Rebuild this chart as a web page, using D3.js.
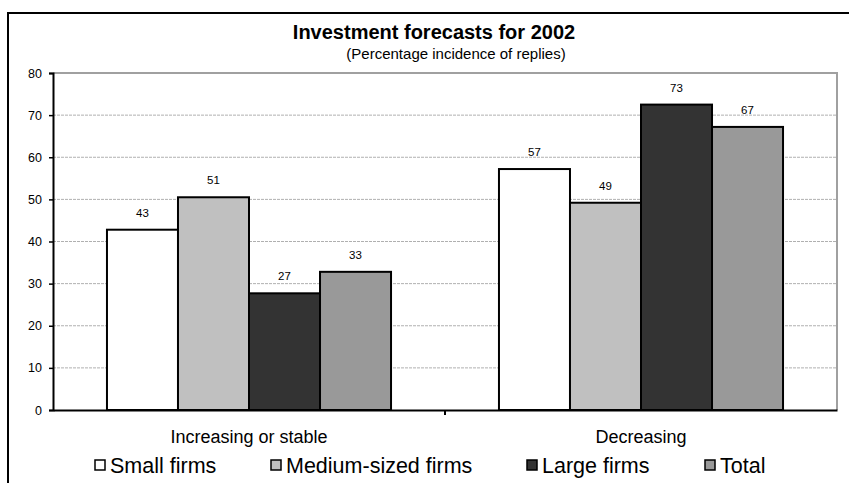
<!DOCTYPE html>
<html>
<head>
<meta charset="utf-8">
<script src="https://cdn.jsdelivr.net/npm/d3@7"></script>
<style>
  body { margin: 0; background: #fff; }
  svg { display: block; font-family: "Liberation Sans", Arial, sans-serif; }
</style>
</head>
<body>
<div id="chart"></div>
<script>
// data
const categories = ["Increasing or stable", "Decreasing"]
const seriesNames = ["Small firms", "Medium-sized firms", "Large firms", "Total"]
const seriesColors = ["#ffffff", "#c0c0c0", "#333333", "#999999"]
const smallFirms = [42.8, 57.2]
const mediumFirms = [50.5, 49.2]
const largeFirms = [27.7, 72.5]
const totalFirms = [32.8, 67.2]
const barLabels = [["43", "57"], ["51", "49"], ["27", "73"], ["33", "67"]]
const yTicks = [0, 10, 20, 30, 40, 50, 60, 70, 80]

const seriesValues = [smallFirms, mediumFirms, largeFirms, totalFirms]

const width = 849, height = 483
const plot = { left: 53, right: 837, top: 73, bottom: 410 }
const font = "'Liberation Sans', Arial, sans-serif"

const svg = d3.select("#chart").append("svg")
    .attr("width", width)
    .attr("height", height)

// outer frame
svg.append("rect")
    .attr("x", 8).attr("y", 13)
    .attr("width", 860).attr("height", 500)
    .attr("fill", "none")
    .attr("stroke", "#000")
    .attr("stroke-width", 2)

// titles
svg.append("text")
    .attr("x", 434).attr("y", 39)
    .attr("text-anchor", "middle")
    .attr("font-size", 20)
    .attr("font-weight", "bold")
    .text("Investment forecasts for 2002")

svg.append("text")
    .attr("x", 456).attr("y", 59)
    .attr("text-anchor", "middle")
    .attr("font-size", 15)
    .text("(Percentage incidence of replies)")

// scales
const x0 = d3.scaleBand()
    .domain(categories)
    .range([plot.left, plot.right])

const x1 = d3.scaleBand()
    .domain(seriesNames)
    .range([0, x0.bandwidth()])
    .paddingOuter(0.76)

const y = d3.scaleLinear()
    .domain([0, 80])
    .range([plot.bottom, plot.top])

// gridlines
svg.append("g")
    .selectAll("line")
    .data(yTicks.filter(d => d > 0 && d < 80))
    .enter().append("line")
    .attr("x1", plot.left).attr("x2", plot.right)
    .attr("y1", d => y(d)).attr("y2", d => y(d))
    .attr("stroke", "#b0b0b0")
    .attr("stroke-dasharray", "3,1")

// plot area top/right border (gray)
svg.append("path")
    .attr("d", `M${plot.left},${plot.top}H${plot.right}V${plot.bottom}`)
    .attr("fill", "none")
    .attr("stroke", "#a0a0a0")
    .attr("stroke-width", 2)

// bars
const rows = []
seriesNames.forEach((s, i) => {
    categories.forEach((c, j) => {
        rows.push({ series: s, cat: c, value: seriesValues[i][j], label: barLabels[i][j], color: seriesColors[i] })
    })
})

svg.append("g")
    .selectAll("rect")
    .data(rows)
    .enter().append("rect")
    .attr("x", d => x0(d.cat) + x1(d.series))
    .attr("y", d => y(d.value))
    .attr("width", x1.bandwidth())
    .attr("height", d => y(0) - y(d.value))
    .attr("fill", d => d.color)
    .attr("stroke", "#000")
    .attr("stroke-width", 2)

svg.append("g")
    .selectAll("text")
    .data(rows)
    .enter().append("text")
    .attr("x", d => x0(d.cat) + x1(d.series) + x1.bandwidth() / 2)
    .attr("y", d => y(d.value) - 13)
    .attr("text-anchor", "middle")
    .attr("font-size", 11.5)
    .text(d => d.label)

// y axis
const yAxis = svg.append("g")
    .attr("transform", `translate(${plot.left},0)`)
    .call(d3.axisLeft(y).tickValues(yTicks).tickSize(4).tickPadding(7))
yAxis.select(".domain").attr("stroke", "#000").attr("stroke-width", 2)
yAxis.selectAll(".tick line").attr("stroke", "#000").attr("stroke-width", 1.5)
yAxis.selectAll("text").attr("font-size", 12.5).attr("fill", "#000")
    .attr("font-family", font)

// x axis
const xAxis = svg.append("g")
    .attr("transform", `translate(0,${plot.bottom})`)
    .call(d3.axisBottom(x0).tickSize(0).tickPadding(20))
xAxis.select(".domain").attr("stroke", "#000").attr("stroke-width", 2)
xAxis.selectAll("text").attr("font-size", 18).attr("fill", "#000")
    .attr("font-family", font)
// tick between categories
svg.append("line")
    .attr("x1", x0(categories[1])).attr("x2", x0(categories[1]))
    .attr("y1", plot.bottom).attr("y2", plot.bottom + 5)
    .attr("stroke", "#000").attr("stroke-width", 2)

// legend
const legendX = [95, 271, 527, 705]
const legend = svg.append("g")
    .selectAll("g")
    .data(seriesNames)
    .enter().append("g")
    .attr("transform", (d, i) => `translate(${legendX[i]},466)`)

legend.append("rect")
    .attr("x", 0).attr("y", -6)
    .attr("width", 10).attr("height", 10)
    .attr("fill", (d, i) => seriesColors[i])
    .attr("stroke", "#000")
    .attr("stroke-width", 1.5)

legend.append("text")
    .attr("x", 15).attr("y", 7)
    .attr("font-size", 21.5)
    .text(d => d)
</script>
</body>
</html>
